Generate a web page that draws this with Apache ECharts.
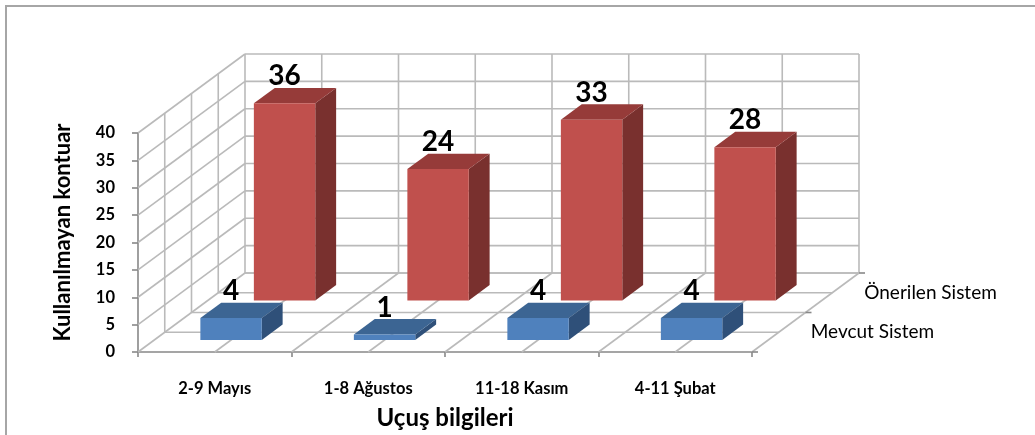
<!DOCTYPE html>
<html>
<head>
<meta charset="utf-8">
<script src="https://cdn.jsdelivr.net/npm/echarts@6/dist/echarts.min.js"></script>
<style>
html,body{margin:0;padding:0;background:#fff;}
#chart{width:1035px;height:435px;}
</style>
</head>
<body>
<div id="chart"></div>
<script>
// ---- data ----
const categories = ['2-9 Mayıs', '1-8 Ağustos', '11-18 Kasım', '4-11 Şubat'];
const seriesNames = ['Mevcut Sistem', 'Önerilen Sistem'];
const mevcutValues = [4, 1, 4, 4];
const onerilenValues = [36, 24, 33, 28];
const yMin = 0, yMax = 40, yStep = 5;
const yAxisTitle = 'Kullanılmayan kontuar';
const xAxisTitle = 'Uçuş bilgileri';

// ---- 3D look parameters (projection of depth axis, in px for full depth) ----
const DEPTH = [107, -79];
const BAR_W = 0.40;      // fraction of category band
const BAR_D = 0.195;     // fraction of full depth
const FONT = 'Lato, "Open Sans", sans-serif';
const GRID_C = '#bababa';
const AXIS_C = '#888888';
const palette = [
  {front: '#4F81BD', top: '#3C6593', side: '#2F5079'},
  {front: '#C0504D', top: '#963B39', side: '#79302E'}
];

const yTicks = [];
for (let v = yMin; v <= yMax; v += yStep) yTicks.push(v);

function projector(api) {
  const bw = api.size([1, 0])[0];
  return function (cf, v, z) {
    const b = api.coord([0, v]);
    return [b[0] + cf * bw + z * DEPTH[0], b[1] + z * DEPTH[1]];
  };
}

function wallsRender(params, api) {
  const P = projector(api);
  const n = categories.length;
  const L = -0.5, R = n - 0.5;
  const kids = [];
  const line = (a, b, c, w) => kids.push({type: 'line', shape: {x1: a[0], y1: a[1], x2: b[0], y2: b[1]},
    style: {stroke: c || GRID_C, lineWidth: w || 1.6}});
  // back wall horizontals
  yTicks.forEach(v => line(P(L, v, 1), P(R, v, 1)));
  // back wall verticals (every half category)
  for (let k = 0; k <= 2 * n; k++) { const cf = L + k * 0.5; line(P(cf, yMin, 1), P(cf, yMax, 1)); }
  // side wall diagonals
  yTicks.forEach(v => line(P(L, v, 0), P(L, v, 1)));
  // side wall verticals
  [0.25, 0.5, 0.75].forEach(z => line(P(L, yMin, z), P(L, yMax, z)));
  // floor lines parallel to front
  [0.25, 0.5, 0.75, 1].forEach(z => line(P(L, yMin, z), P(R, yMin, z)));
  // floor depth lines
  for (let k = 1; k <= 2 * n; k++) { const cf = L + k * 0.5; line(P(cf, yMin, 0), P(cf, yMin, 1)); }
  // depth axis ticks on right edge
  [0, 0.5, 1].forEach(z => { const p = P(R, yMin, z); line(p, [p[0] + 6, p[1]], AXIS_C); });
  // series names along depth axis
  seriesNames.forEach((name, i) => {
    const p = P(R, yMin, (i + 0.5) / seriesNames.length);
    kids.push({type: 'text', x: p[0] + 32, y: p[1],
      style: {text: name, fill: '#000', font: '19px ' + FONT, align: 'left', verticalAlign: 'middle'}});
  });
  return {type: 'group', children: kids};
}

function barRender(si) {
  return function (params, api) {
    const P = projector(api);
    const c = api.value(0), v = api.value(1);
    const zc = (si + 0.5) / seriesNames.length;
    const zf = zc - BAR_D / 2, zb = zc + BAR_D / 2;
    const x0 = c - BAR_W / 2, x1 = c + BAR_W / 2;
    const col = palette[si];
    const front = [P(x0, 0, zf), P(x1, 0, zf), P(x1, v, zf), P(x0, v, zf)];
    const top = [P(x0, v, zf), P(x1, v, zf), P(x1, v, zb), P(x0, v, zb)];
    const side = [P(x1, 0, zf), P(x1, 0, zb), P(x1, v, zb), P(x1, v, zf)];
    const lab = P(c, v, zf);
    return {type: 'group', children: [
      {type: 'polygon', shape: {points: side}, style: {fill: col.side}},
      {type: 'polygon', shape: {points: top}, style: {fill: col.top}},
      {type: 'polygon', shape: {points: front}, style: {fill: col.front}},
      {type: 'text', x: lab[0], y: lab[1] - 27,
        style: {text: String(v), fill: '#000', font: 'bold 28px ' + FONT, align: 'center', verticalAlign: 'middle'}}
    ]};
  };
}

const chart = echarts.init(document.getElementById('chart'), null, {renderer: 'canvas'});
chart.setOption({
  animation: false,
  backgroundColor: '#fff',
  graphic: [{type: 'rect', shape: {x: 6, y: 6, width: 1200, height: 600},
    style: {fill: 'none', stroke: '#a6a6a6', lineWidth: 2}, silent: true}],
  grid: {left: 138, top: 133, width: 614, height: 219},
  xAxis: {
    type: 'category', data: categories,
    axisLine: {lineStyle: {color: AXIS_C, width: 1.6}},
    axisTick: {show: true, length: 5, interval: 0, lineStyle: {color: AXIS_C, width: 1.6}},
    axisLabel: {color: '#000', fontFamily: FONT, fontWeight: 'bold', fontSize: 16.5, margin: 28, interval: 0},
    splitLine: {show: false},
    name: xAxisTitle, nameLocation: 'middle', nameGap: 54,
    nameTextStyle: {color: '#000', fontFamily: FONT, fontWeight: 'bold', fontSize: 24}
  },
  yAxis: {
    type: 'value', min: yMin, max: yMax, interval: yStep,
    axisLine: {show: true, lineStyle: {color: AXIS_C, width: 1.6}},
    axisTick: {show: true, length: 6, lineStyle: {color: AXIS_C, width: 1.6}},
    axisLabel: {color: '#000', fontFamily: FONT, fontWeight: 'bold', fontSize: 16.5, margin: 23},
    splitLine: {show: false},
    name: yAxisTitle, nameLocation: 'middle', nameRotate: 90, nameGap: 64,
    nameTextStyle: {color: '#000', fontFamily: FONT, fontWeight: 'bold', fontSize: 22, padding: [0, 0, 0, 20]}
  },
  series: [
    {type: 'custom', name: 'walls', z: 1, renderItem: wallsRender, data: [[0, 0]], silent: true},
    {type: 'custom', name: seriesNames[1], z: 2, renderItem: barRender(1),
      data: onerilenValues.map((v, i) => [i, v])},
    {type: 'custom', name: seriesNames[0], z: 3, renderItem: barRender(0),
      data: mevcutValues.map((v, i) => [i, v])}
  ]
});
</script>
</body>
</html>
